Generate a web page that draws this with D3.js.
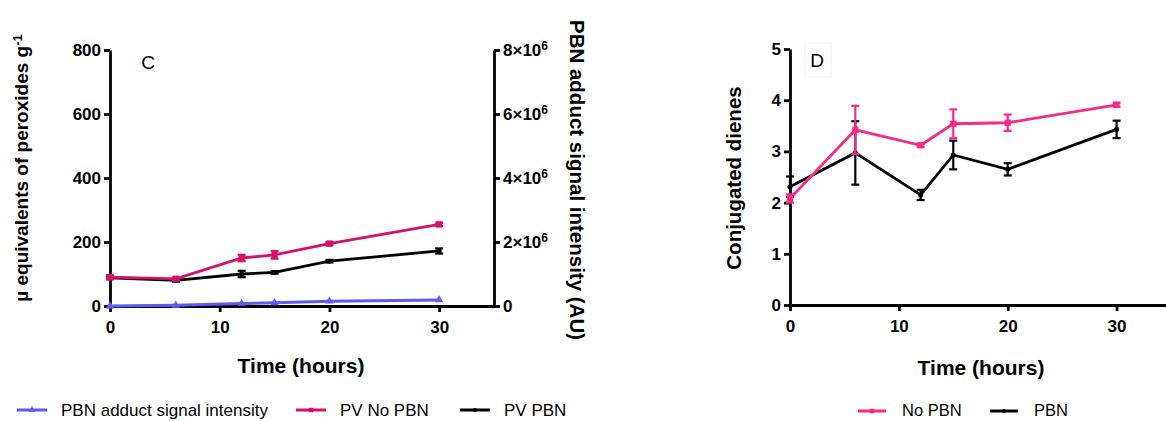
<!DOCTYPE html>
<html><head><meta charset="utf-8">
<script src="https://cdn.jsdelivr.net/npm/d3@7"></script>
<style>body{margin:0;background:#fff}svg{display:block}text{font-family:"Liberation Sans",Arial,sans-serif}</style>
</head><body>
<svg id="c" width="1166" height="421"></svg>
<script>
// ---- Data ----
const timeC = [0, 6, 12, 15, 20, 30];
const pvNoPBN = [90, 85, 150, 160, 195, 255];
const pvNoPBNErr = [6, 4, 10, 12, 5, 5];
const pvPBN = [88, 80, 100, 105, 140, 172];
const pvPBNErr = [4, 4, 10, 4, 4, 8];
const pbnAdduct = [0, 20000, 80000, 100000, 150000, 190000];
const leftTicksC = [0, 200, 400, 600, 800];
const rightTicksC = [0, 2, 4, 6, 8];
const xTicks = [0, 10, 20, 30];

const timeD = [0, 6, 12, 15, 20, 30];
const dNoPBN = [2.08, 3.42, 3.12, 3.54, 3.56, 3.91];
const dNoPBNErr = [0.08, 0.47, 0.03, 0.28, 0.16, 0.04];
const dPBN = [2.31, 2.97, 2.15, 2.93, 2.65, 3.43];
const dPBNErr = [0.2, 0.62, 0.1, 0.28, 0.12, 0.17];
const dTicks = [0, 1, 2, 3, 4, 5];

const svg = d3.select("#c");
const pinkC = "#d4106c", pinkD = "#f52a8a", blue = "#5b5bf8", black = "#000";
const TICK_FS = 17;

function axisStyle(g){
  g.selectAll("path,line").attr("stroke","#000").attr("stroke-width",2.8);
  g.selectAll("text").attr("font-size",TICK_FS).attr("font-weight","bold").attr("fill","#000");
}

// ---- Panel C ----
const xC = d3.scaleLinear().domain([0,35]).range([110,494]);
const yC = d3.scaleLinear().domain([0,800]).range([306,50]);
const yR = d3.scaleLinear().domain([0,8e6]).range([306,50]);

svg.append("g").attr("transform","translate(0,306)")
  .call(d3.axisBottom(xC).tickValues(xTicks).tickFormat(d3.format("d")).tickSize(6).tickSizeOuter(0).tickPadding(9))
  .call(axisStyle);
svg.append("g").attr("transform","translate(110,0)")
  .call(d3.axisLeft(yC).tickValues(leftTicksC).tickFormat(d3.format("d")).tickSize(6).tickSizeOuter(0).tickPadding(3))
  .call(axisStyle);
const gR = svg.append("g").attr("transform","translate(494,0)")
  .call(d3.axisRight(yR).tickValues(rightTicksC.map(v=>v*1e6)).tickSize(6).tickSizeOuter(0).tickPadding(4).tickFormat(""))
  .call(axisStyle);
gR.selectAll(".tick").each(function(d){
  const t = d3.select(this).append("text").attr("x",9).attr("dy","0.35em")
    .attr("font-size",TICK_FS).attr("font-weight","bold").attr("fill","#000");
  if(d===0){ t.text("0"); }
  else {
    t.append("tspan").text((d/1e6)+"\u00d710");
    t.append("tspan").attr("dy","-0.55em").attr("font-size",12).text("6");
  }
});

function series(xs, ys, yScale, xScale, color, errs, marker, width){
  const g = svg.append("g");
  g.append("path").datum(xs.map((x,i)=>[x,ys[i]]))
    .attr("fill","none").attr("stroke",color).attr("stroke-width",width||2.8)
    .attr("d", d3.line().x(d=>xScale(d[0])).y(d=>yScale(d[1])));
  if(errs){
    xs.forEach((x,i)=>{
      const cx = xScale(x), y1 = yScale(ys[i]+errs[i]), y2 = yScale(ys[i]-errs[i]);
      g.append("line").attr("x1",cx).attr("x2",cx).attr("y1",y1).attr("y2",y2).attr("stroke",color).attr("stroke-width",2.2);
      g.append("line").attr("x1",cx-4).attr("x2",cx+4).attr("y1",y1).attr("y2",y1).attr("stroke",color).attr("stroke-width",2.2);
      g.append("line").attr("x1",cx-4).attr("x2",cx+4).attr("y1",y2).attr("y2",y2).attr("stroke",color).attr("stroke-width",2.2);
    });
  }
  g.selectAll(".m").data(xs.map((x,i)=>[x,ys[i]])).enter().append("path")
    .attr("transform",d=>`translate(${xScale(d[0])},${yScale(d[1])})`)
    .attr("d", d3.symbol().type(marker.type).size(marker.size))
    .attr("fill",color);
}

series(timeC, pbnAdduct, yR, xC, blue, null, {type:d3.symbolTriangle,size:30}, 3);
series(timeC, pvPBN, yC, xC, black, pvPBNErr, {type:d3.symbolCircle,size:20});
series(timeC, pvNoPBN, yC, xC, pinkC, pvNoPBNErr, {type:d3.symbolSquare,size:40});

svg.append("text").attr("x",148).attr("y",69).attr("font-size",19).attr("text-anchor","middle").text("C");

svg.append("text").attr("x",301).attr("y",373).attr("text-anchor","middle")
  .attr("font-size",21).attr("font-weight","bold").text("Time (hours)");
const lt = svg.append("text").attr("transform","translate(28,168) rotate(-90)").attr("text-anchor","middle")
  .attr("font-size",19).attr("font-weight","bold");
lt.append("tspan").text("\u00b5 equivalents of peroxides g");
lt.append("tspan").attr("dy","-0.5em").attr("font-size",13).text("-1");
svg.append("text").attr("transform","translate(570,180) rotate(90)").attr("text-anchor","middle")
  .attr("font-size",20.5).attr("font-weight","bold").text("PBN adduct signal intensity (AU)");

// Legend C
const legC = [
  {label:"PBN adduct signal intensity", color:blue, x:17, type:d3.symbolTriangle, size:18},
  {label:"PV No PBN", color:pinkC, x:296, type:d3.symbolSquare, size:20},
  {label:"PV PBN", color:black, x:460, type:d3.symbolCircle, size:14}
];
legC.forEach(l=>{
  svg.append("line").attr("x1",l.x).attr("x2",l.x+30).attr("y1",410).attr("y2",410).attr("stroke",l.color).attr("stroke-width",3);
  svg.append("path").attr("transform",`translate(${l.x+15},410)`).attr("d",d3.symbol().type(l.type).size(l.size)).attr("fill",l.color);
  svg.append("text").attr("x",l.x+44).attr("y",416).attr("font-size",17).text(l.label);
});

// ---- Panel D ----
const xD = d3.scaleLinear().domain([0,35]).range([790,1171]);
const yD = d3.scaleLinear().domain([0,5]).range([305,49]);

svg.append("g").attr("transform","translate(0,305)")
  .call(d3.axisBottom(xD).tickValues(xTicks).tickFormat(d3.format("d")).tickSize(6).tickSizeOuter(0).tickPadding(9))
  .call(axisStyle);
svg.append("g").attr("transform","translate(790,0)")
  .call(d3.axisLeft(yD).tickValues(dTicks).tickFormat(d3.format("d")).tickSize(6).tickSizeOuter(0).tickPadding(3))
  .call(axisStyle);

series(timeD, dPBN, yD, xD, black, dPBNErr, {type:d3.symbolCircle,size:20});
series(timeD, dNoPBN, yD, xD, pinkD, dNoPBNErr, {type:d3.symbolSquare,size:40});

svg.append("rect").attr("x",805).attr("y",43).attr("width",26).attr("height",34).attr("fill","none").attr("stroke","#f0f0f0");
svg.append("text").attr("x",817).attr("y",67).attr("font-size",19).attr("text-anchor","middle").text("D");

svg.append("text").attr("x",981).attr("y",375).attr("text-anchor","middle")
  .attr("font-size",21).attr("font-weight","bold").text("Time (hours)");
svg.append("text").attr("transform","translate(741,178) rotate(-90)").attr("text-anchor","middle")
  .attr("font-size",20.5).attr("font-weight","bold").text("Conjugated dienes");

const legD = [
  {label:"No PBN", color:pinkD, x:858, type:d3.symbolSquare, size:20},
  {label:"PBN", color:black, x:990, type:d3.symbolCircle, size:14}
];
legD.forEach(l=>{
  svg.append("line").attr("x1",l.x).attr("x2",l.x+28).attr("y1",411).attr("y2",411).attr("stroke",l.color).attr("stroke-width",3);
  svg.append("path").attr("transform",`translate(${l.x+14},411)`).attr("d",d3.symbol().type(l.type).size(l.size)).attr("fill",l.color);
  svg.append("text").attr("x",l.x+44).attr("y",416).attr("font-size",16.5).text(l.label);
});
</script>
</body></html>
